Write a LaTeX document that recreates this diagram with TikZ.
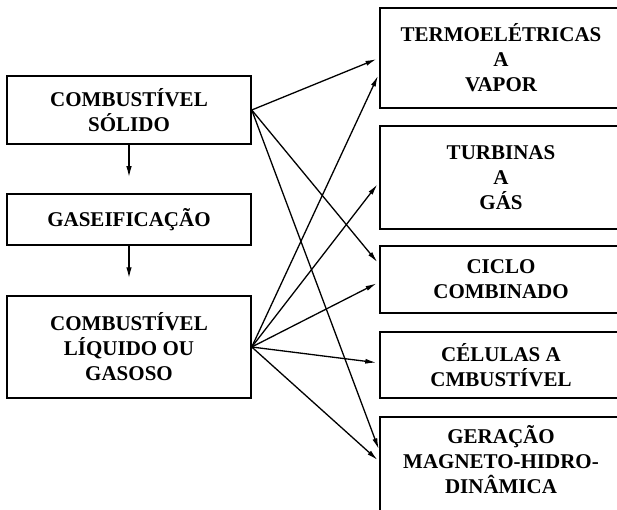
\documentclass[tikz,border=0pt]{standalone}
\usepackage{fontspec}
\setmainfont{Liberation Serif}
\usetikzlibrary{arrows.meta,calc}
\begin{document}
\begin{tikzpicture}[x=1pt,y=-1pt,
  boxl/.style={draw, line width=1.5pt, minimum width=244pt, inner sep=0pt, align=center,
    font=\fontsize{21}{25}\selectfont\bfseries},
  boxr/.style={draw, line width=1.5pt, minimum width=242pt, inner sep=0pt, align=center,
    font=\fontsize{21}{25}\selectfont\bfseries},
  txt/.style={inner sep=0pt, align=center, font=\fontsize{21}{25}\selectfont\bfseries},
  conn/.style={line width=1.3pt, -{Latex[length=11pt,width=5pt]}, shorten >=3pt},
  down/.style={line width=1.4pt, -{Latex[length=11pt,width=5.5pt]}}]
\clip (0,0) rectangle (617,510);
\fill[white] (0,0) rectangle (617,510);
% left boxes
\node[boxl, minimum height=68pt] (b1) at (129,110) {COMBUSTÍVEL\\SÓLIDO};
\node[boxl, minimum height=51pt] (b2) at (129,219.5) {GASEIFICAÇÃO};
\node[boxl, minimum height=102pt] (b3) at (129,347) {COMBUSTÍVEL\\LÍQUIDO OU\\GASOSO};
% right boxes
\node[boxr, minimum height=100pt] (r1) at (501,58) {TERMOELÉTRICAS\\A\\VAPOR};
\node[boxr, minimum height=103pt] (r2) at (501,177.5) {TURBINAS\\A\\GÁS};
\node[boxr, minimum height=67pt] (r3) at (501,279.5) {CICLO\\COMBINADO};
\node[boxr, minimum height=66pt] (r4) at (501,365) {CÉLULAS A\\CMBUSTÍVEL};
\node[txt, minimum width=242pt, minimum height=86pt] (r5) at (501,460) {GERAÇÃO\\MAGNETO-HIDRO-\\DINÂMICA};
\draw[line width=1.5pt] ($(r5.north east)+(10,0)$) -- (r5.north west) -- ($(r5.south west)+(0,40)$);
% vertical arrows
\draw[down, shorten >=16pt] (b1.south) -- (b2.north);
\draw[down, shorten >=17pt] (b2.south) -- (b3.north);
% connectors from solid fuel
\draw[conn] (b1.east) -- (r1.west);
\draw[conn] (b1.east) -- ($(r3.west)+(0,-15)$);
\draw[conn] (b1.east) -- ($(r5.west)+(0,-8)$);
% connectors from liquid/gas fuel
\draw[conn] (b3.east) -- ($(r1.west)+(0,15)$);
\draw[conn] (b3.east) -- ($(r2.west)+(0,4.5)$);
\draw[conn] (b3.east) -- ($(r3.west)+(0,2.5)$);
\draw[conn] (b3.east) -- ($(r4.west)+(0,-2)$);
\draw[conn] (b3.east) -- ($(r5.west)+(0,2)$);
\end{tikzpicture}
\end{document}
